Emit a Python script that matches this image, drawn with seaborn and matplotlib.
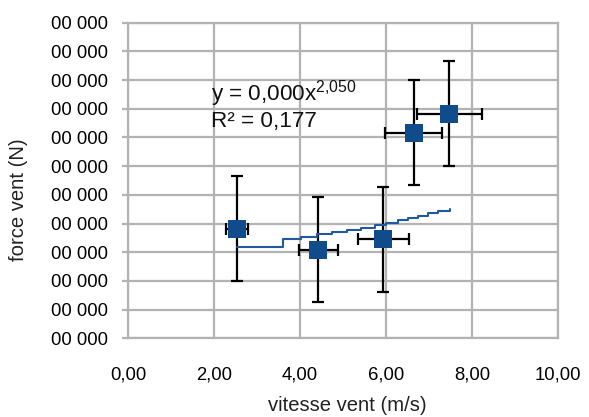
import matplotlib
matplotlib.use("Agg")
import matplotlib.pyplot as plt
import seaborn as sns
import numpy as np
import pandas as pd

# ---- data ----
vitesse = [2.54, 4.43, 5.94, 6.64, 7.47]          # m/s
force = [38100, 30800, 34600, 71600, 78200]       # N (axis labels are all "00 000")
err_vitesse = [0.26, 0.45, 0.60, 0.67, 0.76]
err_force = [18300, 18300, 18300, 18300, 18300]

trend_x = [2.53, 3.61, 4.02, 4.40, 4.74, 5.09, 5.43, 5.74, 6.01, 6.29, 6.52, 6.75, 6.98, 7.22, 7.49]
trend_y = [31700, 34600, 35400, 36200, 36900, 37700, 38500, 39500, 40300, 41100, 42000, 42700, 43500, 44500, 45000]

x_ticks = [0, 2, 4, 6, 8, 10]
x_ticklabels = ["0,00", "2,00", "4,00", "6,00", "8,00", "10,00"]
y_ticks = [i * 10000 for i in range(12)]
y_ticklabels = ["00 000"] * 12

equation_text = "y = 0,000x$^{2{,}050}$"
r2_text = "R² = 0,177"
x_label = "vitesse vent (m/s)"
y_label = "force vent (N)"

# ---- style ----
sns.set_style("white")
plt.rcParams["font.family"] = ["Liberation Sans", "DejaVu Sans"]
plt.rcParams["mathtext.fontset"] = "custom"
plt.rcParams["mathtext.rm"] = "Liberation Sans"
plt.rcParams["mathtext.default"] = "regular"

grid_col = "#b3b3b3"
blue = "#104b8c"

fig = plt.figure(figsize=(5.89, 4.17), dpi=100)
ax = fig.add_axes([128 / 589, 1 - 338.3 / 417, 430 / 589, 315.6 / 417])

df_pts = pd.DataFrame({"vitesse": vitesse, "force": force})
df_trend = pd.DataFrame({"x": trend_x, "y": trend_y})

ax.errorbar(vitesse, force, xerr=err_vitesse, yerr=err_force, fmt="none",
            ecolor="black", elinewidth=1.6, capsize=4.6, capthick=1.6, zorder=3)
sns.scatterplot(data=df_pts, x="vitesse", y="force", ax=ax, marker="s", s=150,
                color=blue, edgecolor=blue, linewidth=0, zorder=4)
sns.lineplot(data=df_trend, x="x", y="y", ax=ax, color="#1f5aa0", linewidth=1.5,
             drawstyle="steps-post", zorder=5, estimator=None, sort=False)

ax.set_xlim(0, 10)
ax.set_ylim(0, 110000)
ax.set_xticks(x_ticks)
ax.set_xticklabels(x_ticklabels)
ax.set_yticks(y_ticks)
ax.set_yticklabels(y_ticklabels)

ax.grid(True, color=grid_col, linewidth=1.6)
ax.set_axisbelow(True)
for s in ax.spines.values():
    s.set_color(grid_col)
    s.set_linewidth(1.6)

ax.tick_params(axis="y", which="major", length=4, width=1.6, color=grid_col,
               pad=10.5, labelsize=13.3, labelcolor="black", left=True)
ax.tick_params(axis="x", which="major", length=0, pad=20, labelsize=13.3,
               labelcolor="black")

ax.set_xlabel(x_label, fontsize=14.6, color="#222222")
ax.set_ylabel(y_label, fontsize=14.6, color="#222222")
ax.xaxis.set_label_coords(0.509, -0.183)
ax.yaxis.set_label_coords(-0.232, 0.44)

ax.text(0.193, 0.755, equation_text, transform=ax.transAxes, fontsize=16.2,
        va="baseline", ha="left", color="#111111")
ax.text(0.193, 0.670, r2_text, transform=ax.transAxes, fontsize=16.2,
        va="baseline", ha="left", color="#111111")

if ax.get_legend() is not None:
    ax.get_legend().remove()

fig.savefig("out.png", dpi=100)
